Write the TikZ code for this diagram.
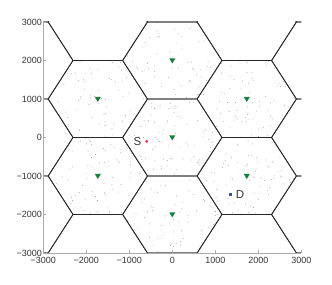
\documentclass[tikz,border=0pt]{standalone}
\usepackage{fontspec}
\setmainfont{Liberation Sans}
\usepackage{tikz}
\usetikzlibrary{positioning}
\definecolor{CellInk}{RGB}{38,38,38}
\definecolor{AxisGray}{RGB}{170,170,170}
\definecolor{UserGray}{RGB}{150,150,150}
\definecolor{BsGreen}{RGB}{24,128,62}
\definecolor{SrcRed}{RGB}{236,32,44}
\definecolor{DstBlue}{RGB}{52,84,168}

\begin{document}
\begin{tikzpicture}[
x=43pt,
y=38.5pt,
every node/.style={font=\fontsize{9}{10}\selectfont,text=black!80,outer sep=0pt},
cellEdge/.style={draw=CellInk,line width=0.75pt,line join=round},
axisLine/.style={draw=AxisGray,line width=0.7pt},
tickLabel/.style={inner sep=0pt},
userDot/.style={fill=UserGray,draw=none},
bsMark/.style={fill=BsGreen,draw=none},
srcDot/.style={circle,fill=SrcRed,inner sep=0pt,minimum size=3pt},
dstDot/.style={rectangle,fill=DstBlue,inner sep=0pt,minimum size=3pt},
endLabel/.style={font=\fontsize{11.5}{13}\selectfont,text=black!80,inner sep=0pt}
]

\path[use as bounding box] (-4.007,-3.831) rectangle (3.714,3.571);

% users scattered inside the seven cells
\begin{scope}
\clip \foreach \cx/\cy in {0/0,0/2,0/-2,1.732/1,1.732/-1,-1.732/1,-1.732/-1}
  {(\cx+1.1547,\cy) -- (\cx+0.5774,\cy+1) -- (\cx-0.5774,\cy+1) -- (\cx-1.1547,\cy) -- (\cx-0.5774,\cy-1) -- (\cx+0.5774,\cy-1) -- cycle};
\pgfmathsetseed{2718}
\foreach \k in {1,...,720} {
  \pgfmathsetmacro\ux{2.887*rand}
  \pgfmathsetmacro\uy{3*rand}
  \fill[userDot] (\ux,\uy) circle[radius=0.45pt];
}
\end{scope}

% hexagonal tiling, clipped to the axes
\begin{scope}
\clip (-3,-3) rectangle (3,3);
\foreach \i in {-2,...,2} {
  \foreach \j in {-4,...,4} {
    \pgfmathtruncatemacro\cellOdd{mod(abs(\i+\j),2)}
    \ifnum\cellOdd=0
      \draw[cellEdge,shift={({1.732*\i},{\j})}] (1.1547,0) -- (0.5774,1) -- (-0.5774,1) -- (-1.1547,0) -- (-0.5774,-1) -- (0.5774,-1) -- cycle;
    \fi
  }
}
\end{scope}

% axes
\draw[axisLine] (-3,3) -- (-3,-3) -- (3,-3);
\foreach \v/\t in {-3/−3000,-2/−2000,-1/−1000,0/0,1/1000,2/2000,3/3000} {
  \draw[axisLine] (-3,\v) -- ++(3pt,0);
  \draw[axisLine] (\v,-3) -- ++(0,3pt);
  \node[tickLabel,anchor=east] (yt\v) at ([xshift=-1.5pt]-3,\v) {\t};
  \node[tickLabel,anchor=north] (xt\v) at ([yshift=-4pt]\v,-3) {\t};
}

% base stations
\foreach \cx/\cy in {0/0,0/2,0/-2,1.732/1,1.732/-1,-1.732/1,-1.732/-1}
  \fill[bsMark] ([xshift=-3pt,yshift=2pt]\cx,\cy) -- ++(6pt,0) -- ++(-3pt,-5pt) -- cycle;

% source and destination
\node[srcDot] (S) at (-0.595,-0.099) {};
\node[endLabel,left=4pt of S] (Slabel) {S};
\node[dstDot] (D) at (1.365,-1.48) {};
\node[endLabel,right=3.5pt of D] (Dlabel) {D};

\end{tikzpicture}
\end{document}
